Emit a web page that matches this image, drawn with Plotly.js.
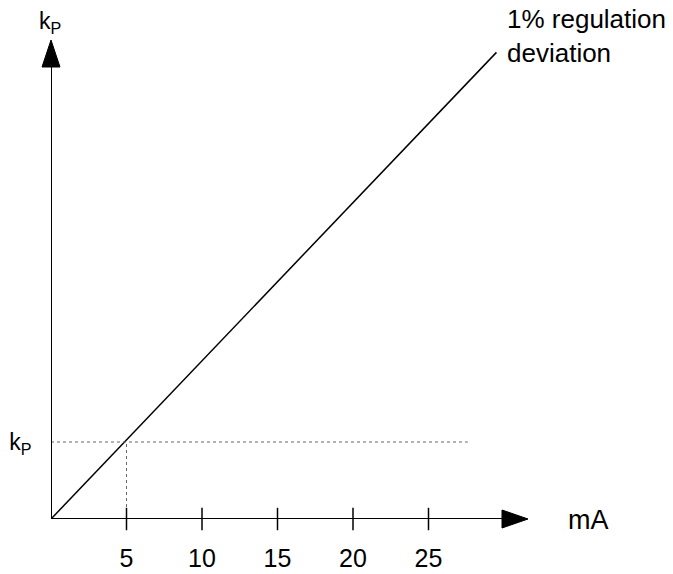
<!DOCTYPE html>
<html>
<head>
<meta charset="utf-8">
<script src="https://cdn.plot.ly/plotly-3.0.1.min.js"></script>
<style>html,body{margin:0;padding:0;background:#fff;}#chart{width:673px;height:574px;}</style>
</head>
<body>
<div id="chart"></div>
<script>
// Data
const lineX = [0, 29.5];            // mA
const lineY = [0, 30.3];            // kP (arbitrary units)
const kpX = 5;                       // mA at kP
const kpY = 5;                       // kP level
const refLineEndX = 27.6;            // end of horizontal dotted line
const tickVals = [5, 10, 15, 20, 25];
const tickText = ['5', '10', '15', '20', '25'];
const xAxisEnd = 31.6;
const yAxisEnd = 31.1;

const FONT = 'Liberation Sans, Arial, sans-serif';
const L = 51, B = 55, W = 673, H = 574;
const PW = W - L, PH = H - B;
const px = v => (v - L) / PW;        // pixel x -> paper
const py = v => (PH - v) / PH;       // pixel y -> paper

const traces = [
  { x: lineX, y: lineY, mode: 'lines', line: {color: '#000', width: 1.5}, hoverinfo: 'skip', showlegend: false },
  { x: [0, refLineEndX], y: [kpY, kpY], mode: 'lines', line: {color: '#666', width: 1, dash: 'dot'}, showlegend: false },
  { x: [kpX, kpX], y: [0, kpY], mode: 'lines', line: {color: '#666', width: 1, dash: 'dot'}, showlegend: false },
  { x: tickVals, y: tickVals.map(() => 0), mode: 'markers', cliponaxis: false,
    marker: {symbol: 'line-ns-open', size: 16, color: '#000', line: {color: '#000', width: 1.5}}, showlegend: false }
];

const layout = {
  width: W, height: H,
  margin: {l: L, r: 0, t: 0, b: B},
  paper_bgcolor: '#fff', plot_bgcolor: '#fff',
  font: {family: FONT, color: '#000'},
  xaxis: {range: [0, PW/15.1], showgrid: false, zeroline: false, showline: false,
          tickvals: tickVals, ticktext: tickText, ticks: 'outside', ticklen: 17, tickcolor: 'rgba(0,0,0,0)',
          tickfont: {size: 25, family: FONT}},
  yaxis: {range: [0, PH/15.4], showgrid: false, zeroline: false, showline: false,
          tickvals: [kpY], ticktext: ['k<sub>P</sub>'], ticks: 'outside', ticklen: 14, tickcolor: 'rgba(0,0,0,0)',
          tickfont: {size: 23, family: FONT}},
  shapes: [
    {type: 'line', xref: 'x', yref: 'y', x0: 0, y0: 0, x1: xAxisEnd - 1, y1: 0, line: {color: '#000', width: 2}},
    {type: 'line', xref: 'x', yref: 'y', x0: 0, y0: 0, x1: 0, y1: yAxisEnd - 1, line: {color: '#000', width: 2}},
    {type: 'path', xref: 'paper', yref: 'paper', xsizemode: 'pixel', ysizemode: 'pixel', xanchor: px(528), yanchor: 0,
     path: 'M 0 0 L -26 9 L -26 -9 Z', fillcolor: '#000', line: {color: '#000', width: 1}},
    {type: 'path', xref: 'paper', yref: 'paper', xsizemode: 'pixel', ysizemode: 'pixel', xanchor: 0, yanchor: py(40),
     path: 'M 0 0 L -9 -27 L 9 -27 Z', fillcolor: '#000', line: {color: '#000', width: 1}}
  ],
  annotations: [
    {xref: 'paper', yref: 'paper', x: px(50), y: py(22), text: 'k<sub>P</sub>', showarrow: false,
     font: {size: 23}, xanchor: 'center', yanchor: 'middle'},
    {xref: 'paper', yref: 'paper', x: px(566), y: py(520), text: 'mA', showarrow: false,
     font: {size: 27}, xanchor: 'left', yanchor: 'middle'},
    {xref: 'paper', yref: 'paper', x: px(505), y: py(36), text: '1% regulation<br>deviation', showarrow: false,
     font: {size: 26}, xanchor: 'left', yanchor: 'middle', align: 'left'}
  ]
};

Plotly.newPlot('chart', traces, layout, {displayModeBar: false, staticPlot: true});
</script>
</body>
</html>
